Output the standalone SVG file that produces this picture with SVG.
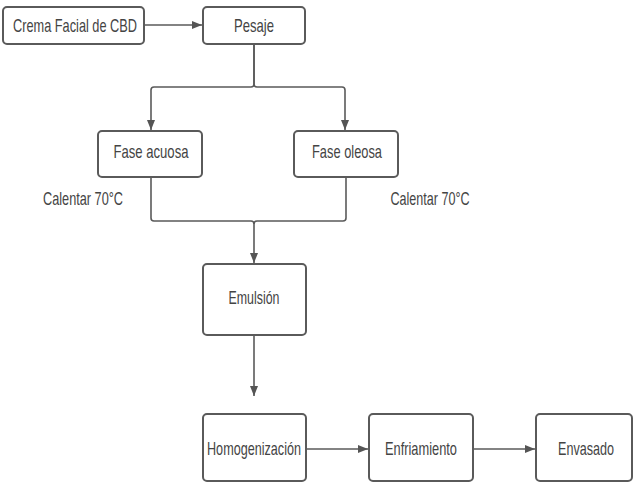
<svg xmlns="http://www.w3.org/2000/svg" width="635" height="485" viewBox="0 0 635 485">
<style>
.box{fill:#fff;stroke:#5a5a5a;stroke-width:2}
.t{font-family:"Liberation Sans",Arial,sans-serif;font-size:19px;fill:#444;text-anchor:middle}
.c{fill:none;stroke:#5a5a5a;stroke-width:1.6}
</style>
<defs>
<marker id="ah" markerWidth="10" markerHeight="8" refX="10" refY="4" orient="auto" markerUnits="userSpaceOnUse">
<path d="M0,0 L10,4 L0,8 Z" fill="#555"/>
</marker>
</defs>
<rect width="635" height="485" fill="#fff"/>
<g id="connectors">
<path class="c" d="M144,25 H202" marker-end="url(#ah)"/>
<path class="c" d="M254,44 V84 Q254,87 251,87 H154 Q151,87 151,90 V130" marker-end="url(#ah)"/>
<path class="c" d="M254,44 V84 Q254,87 257,87 H342 Q345,87 345,90 V130" marker-end="url(#ah)"/>
<path class="c" d="M151,177 V218 Q151,221 154,221 H251 Q254,221 254,224 V263" marker-end="url(#ah)"/>
<path class="c" d="M346,177 V218 Q346,221 343,221 H257 Q254,221 254,224"/>
<path class="c" d="M254,335 V396" marker-end="url(#ah)"/>
<path class="c" d="M306,449 H368" marker-end="url(#ah)"/>
<path class="c" d="M473,449 H535" marker-end="url(#ah)"/>
</g>
<g id="crema"><rect class="box" x="3" y="7" width="141" height="37" rx="4"/><text class="t" x="75" y="32" textLength="124" lengthAdjust="spacingAndGlyphs">Crema Facial de CBD</text></g>
<g id="pesaje"><rect class="box" x="203" y="7" width="102" height="37" rx="4"/><text class="t" x="254" y="32" textLength="40" lengthAdjust="spacingAndGlyphs">Pesaje</text></g>
<g id="acuosa"><rect class="box" x="98" y="131" width="104" height="46" rx="4"/><text class="t" x="151" y="158" textLength="75" lengthAdjust="spacingAndGlyphs">Fase acuosa</text></g>
<g id="oleosa"><rect class="box" x="294" y="131" width="104" height="46" rx="4"/><text class="t" x="347" y="158" textLength="70" lengthAdjust="spacingAndGlyphs">Fase oleosa</text></g>
<g id="calentar1"><text class="t" x="83" y="205" textLength="80" lengthAdjust="spacingAndGlyphs">Calentar 70°C</text></g>
<g id="calentar2"><text class="t" x="430" y="205" textLength="79" lengthAdjust="spacingAndGlyphs">Calentar 70°C</text></g>
<g id="emulsion"><rect class="box" x="203" y="264" width="103" height="71" rx="4"/><text class="t" x="254" y="304" textLength="51" lengthAdjust="spacingAndGlyphs">Emulsión</text></g>
<g id="homog"><rect class="box" x="203" y="414" width="103" height="67" rx="4"/><text class="t" x="254" y="455" textLength="94" lengthAdjust="spacingAndGlyphs">Homogenización</text></g>
<g id="enfri"><rect class="box" x="369" y="414" width="104" height="67" rx="4"/><text class="t" x="421" y="455" textLength="72" lengthAdjust="spacingAndGlyphs">Enfriamiento</text></g>
<g id="envasado"><rect class="box" x="536" y="414" width="96" height="67" rx="4"/><text class="t" x="586" y="455" textLength="56" lengthAdjust="spacingAndGlyphs">Envasado</text></g>
</svg>
